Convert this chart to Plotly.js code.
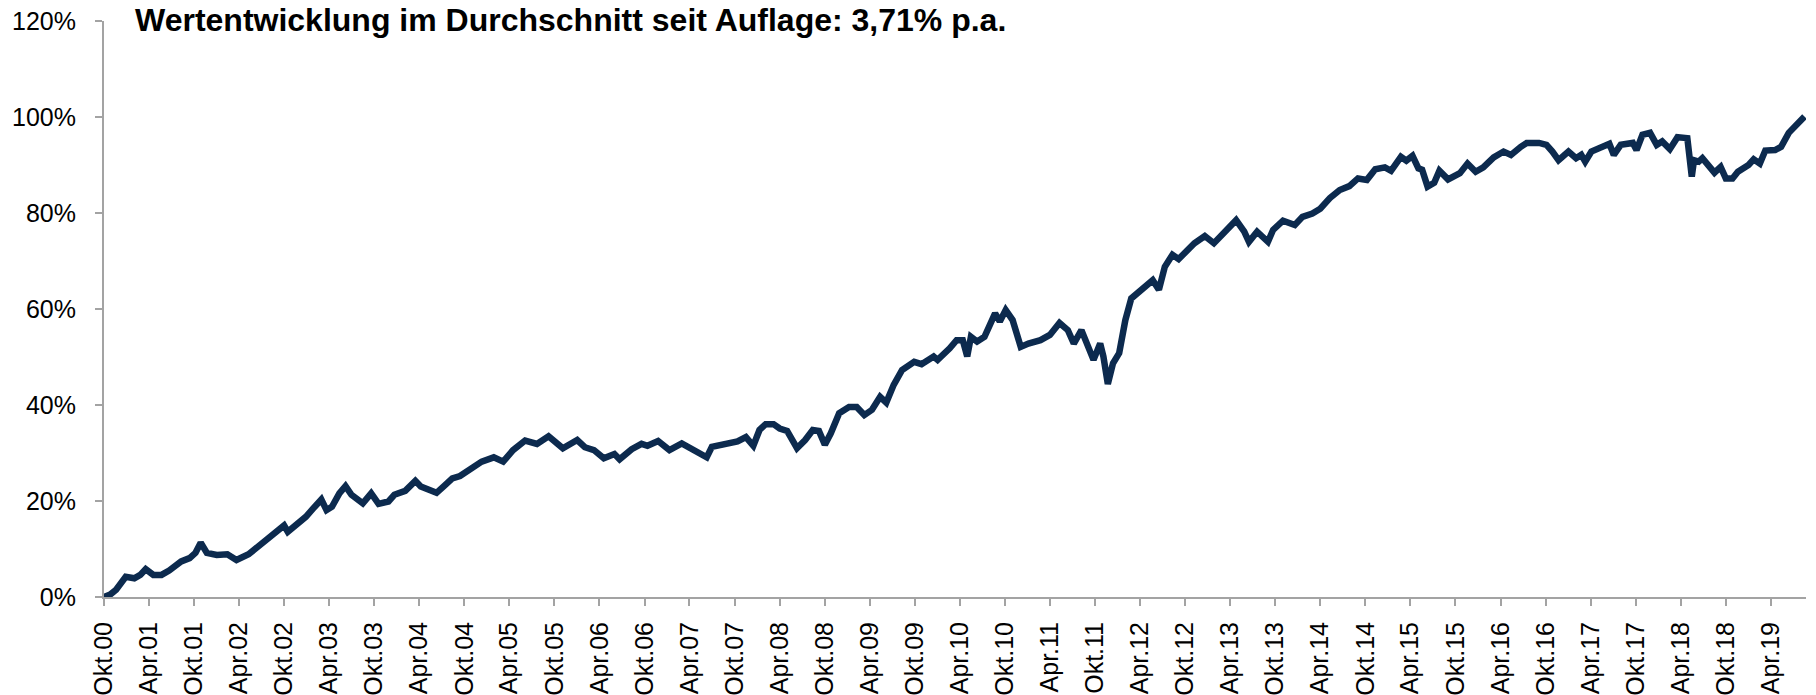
<!DOCTYPE html>
<html>
<head>
<meta charset="utf-8">
<script src="https://cdn.plot.ly/plotly-3.0.1.min.js"></script>
<style>
  html, body { margin: 0; padding: 0; background: #ffffff; }
  #chart { width: 1816px; height: 695px; }
</style>
</head>
<body>
<div id="chart"></div>
<script>
// ---- data ----
const chartTitle = "Wertentwicklung im Durchschnitt seit Auflage: 3,71% p.a.";

const dates = [
  "2000-10-01","2000-10-26","2000-11-19","2000-12-28","2001-02-01","2001-02-25","2001-03-19","2001-04-19",
  "2001-05-22","2001-06-22","2001-08-10","2001-09-13","2001-10-07","2001-10-28","2001-11-22","2002-01-01",
  "2002-02-13","2002-03-22","2002-05-10","2002-06-25","2002-08-13","2002-10-01","2002-10-16","2002-11-19",
  "2002-12-28","2003-01-28","2003-03-01","2003-03-22","2003-04-13","2003-05-13","2003-06-07","2003-07-01",
  "2003-08-16","2003-09-19","2003-10-19","2003-11-28","2003-12-22","2004-02-04","2004-02-22","2004-03-16",
  "2004-04-07","2004-05-07","2004-06-10","2004-07-10","2004-08-13","2004-09-13","2004-10-22","2004-12-10",
  "2005-01-28","2005-03-07","2005-04-16","2005-06-04","2005-07-22","2005-09-07","2005-11-04","2006-01-01",
  "2006-02-01","2006-03-10","2006-04-19","2006-06-01","2006-06-22","2006-08-10","2006-09-19","2006-10-13",
  "2006-11-25","2007-01-10","2007-03-01","2007-04-07","2007-06-10","2007-07-01","2007-08-19","2007-10-13",
  "2007-11-16","2007-12-16","2008-01-10","2008-02-04","2008-03-07","2008-04-01","2008-05-01","2008-06-10",
  "2008-07-13","2008-08-13","2008-09-07","2008-10-01","2008-10-25","2008-11-28","2009-01-07","2009-02-07",
  "2009-03-10","2009-04-10","2009-05-13","2009-06-07","2009-07-07","2009-08-10","2009-09-28","2009-10-28",
  "2009-12-16","2010-01-01","2010-02-19","2010-03-19","2010-04-13","2010-05-01","2010-05-16","2010-06-10",
  "2010-07-10","2010-08-22","2010-09-10","2010-10-04","2010-11-01","2010-12-04","2011-01-04","2011-02-22",
  "2011-04-01","2011-05-10","2011-06-13","2011-07-07","2011-08-07","2011-09-01","2011-09-25","2011-10-22",
  "2011-11-04","2011-11-22","2011-12-13","2012-01-07","2012-02-01","2012-02-25","2012-03-28","2012-04-28",
  "2012-05-22","2012-06-16","2012-07-10","2012-08-10","2012-09-04","2012-11-07","2012-12-19","2013-01-25",
  "2013-03-04","2013-04-25","2013-05-28","2013-06-16","2013-07-19","2013-09-01","2013-09-22","2013-11-01",
  "2013-12-19","2014-01-19","2014-02-28","2014-04-01","2014-05-10","2014-06-19","2014-07-28","2014-09-01",
  "2014-10-07","2014-11-10","2014-12-19","2015-01-13","2015-02-22","2015-03-16","2015-04-10","2015-05-04",
  "2015-05-19","2015-06-10","2015-07-07","2015-07-28","2015-09-01","2015-10-19","2015-11-19","2015-12-22",
  "2016-01-22","2016-03-04","2016-04-13","2016-05-13","2016-06-22","2016-07-16","2016-09-04","2016-10-04",
  "2016-10-28","2016-11-22","2017-01-01","2017-02-01","2017-02-22","2017-03-10","2017-04-04","2017-05-13",
  "2017-06-16","2017-07-04","2017-08-01","2017-09-19","2017-10-04","2017-10-28","2017-11-28","2017-12-25",
  "2018-01-16","2018-02-16","2018-03-19","2018-04-28","2018-05-16","2018-05-25","2018-06-13","2018-06-28",
  "2018-08-01","2018-08-16","2018-09-10","2018-10-01","2018-10-28","2018-11-19","2019-01-01","2019-01-22",
  "2019-02-16","2019-03-10","2019-04-19","2019-05-13","2019-06-13","2019-07-07","2019-07-22","2019-08-16"
];

const performance = [
  0.0, 0.5, 1.5, 4.2, 3.9, 4.6, 5.8, 4.6,
  4.6, 5.5, 7.4, 8.1, 9.2, 11.3, 9.2, 8.75,
  8.9, 7.7, 8.9, 10.8, 12.9, 14.9, 13.6, 15.0,
  16.7, 18.5, 20.3, 18.1, 18.8, 21.6, 23.1, 21.3,
  19.5, 21.6, 19.4, 19.9, 21.3, 22.1, 23.0, 24.2,
  23.0, 22.3, 21.7, 23.1, 24.7, 25.2, 26.5, 28.2,
  29.1, 28.2, 30.6, 32.6, 31.9, 33.5, 31.0, 32.7,
  31.2, 30.6, 28.9, 29.8, 28.7, 30.8, 31.9, 31.5,
  32.5, 30.6, 32.0, 31.0, 29.1, 31.3, 31.7, 32.4,
  33.3, 31.5, 34.8, 36.0, 36.0, 35.1, 34.6, 31.0,
  32.7, 34.8, 34.6, 31.7, 34.1, 38.3, 39.6, 39.6,
  37.9, 39.0, 41.7, 40.5, 44.2, 47.3, 49.0, 48.5,
  50.1, 49.4, 51.8, 53.5, 53.5, 50.1, 54.2, 53.2,
  54.2, 59.1, 57.4, 59.8, 57.7, 52.1, 52.8, 53.5,
  54.6, 57.1, 55.6, 52.8, 55.6, 52.1, 49.4, 52.8,
  50.1, 44.4, 48.7, 50.8, 57.7, 62.2, 63.6, 65.0,
  66.0, 64.0, 68.8, 71.3, 70.4, 73.7, 75.2, 73.7,
  75.8, 78.5, 76.1, 74.0, 76.1, 74.0, 76.5, 78.4,
  77.5, 79.2, 79.9, 80.9, 83.1, 84.8, 85.6, 87.2,
  86.9, 89.1, 89.5, 88.8, 91.7, 90.9, 91.9, 89.3,
  89.0, 85.5, 86.3, 88.8, 87.0, 88.3, 90.3, 88.6,
  89.5, 91.6, 92.8, 92.1, 93.8, 94.6, 94.6, 94.2,
  92.8, 91.0, 92.8, 91.4, 92.1, 90.7, 92.8, 93.5,
  94.4, 92.1, 94.2, 94.6, 93.1, 96.3, 96.7, 94.2,
  94.9, 93.3, 95.8, 95.6, 87.6, 91.0, 90.7, 91.4,
  89.3, 88.4, 89.6, 87.2, 87.2, 88.6, 90.0, 91.2,
  90.3, 93.0, 93.1, 93.8, 96.7, 98.0, 98.7, 100.1
];

const tickLabels = [
  "Okt.00","Apr.01","Okt.01","Apr.02","Okt.02","Apr.03","Okt.03","Apr.04","Okt.04","Apr.05",
  "Okt.05","Apr.06","Okt.06","Apr.07","Okt.07","Apr.08","Okt.08","Apr.09","Okt.09","Apr.10",
  "Okt.10","Apr.11","Okt.11","Apr.12","Okt.12","Apr.13","Okt.13","Apr.14","Okt.14","Apr.15",
  "Okt.15","Apr.16","Okt.16","Apr.17","Okt.17","Apr.18","Okt.18","Apr.19"
];

const yTickValues = [0, 20, 40, 60, 80, 100, 120];

// tick dates derived from the labels ("Okt.00" -> 2000-10-01)
const tickDates = tickLabels.map(function (t) {
  const mon = t.indexOf("Okt") === 0 ? "10" : "04";
  const yr = 2000 + parseInt(t.split(".")[1], 10);
  return yr + "-" + mon + "-01";
});

const axisGray = "#a3a3a3";
const fontFamily = "Liberation Sans, Arial, Helvetica, sans-serif";

const trace = {
  type: "scatter",
  mode: "lines",
  x: dates,
  y: performance,
  line: { color: "#0c2a4e", width: 6.5, shape: "linear" },
  hoverinfo: "x+y"
};

const layout = {
  width: 1816,
  height: 695,
  paper_bgcolor: "#ffffff",
  plot_bgcolor: "#ffffff",
  showlegend: false,
  margin: { l: 104, r: 10, t: 21, b: 98, pad: 0 },
  title: {
    text: chartTitle,
    font: { family: fontFamily, size: 32, color: "#000000", weight: "bold" },
    xref: "container",
    yref: "container",
    x: 135 / 1816,
    xanchor: "left",
    y: 1 - 20 / 695,
    yanchor: "middle"
  },
  xaxis: {
    type: "date",
    range: ["2000-10-01", "2019-08-22"],
    tickmode: "array",
    tickvals: tickDates,
    ticktext: tickLabels,
    tickangle: -90,
    ticks: "outside",
    ticklen: 7,
    tickwidth: 2,
    tickcolor: axisGray,
    showline: true,
    linecolor: axisGray,
    linewidth: 2,
    showgrid: false,
    zeroline: false,
    tickfont: { family: fontFamily, size: 25, color: "#000000" },
    ticklabelstandoff: 6,
    fixedrange: true
  },
  yaxis: {
    range: [0, 120],
    tickmode: "array",
    tickvals: yTickValues,
    ticktext: yTickValues.map(function (v) { return v + "%"; }),
    ticks: "outside",
    ticklen: 7,
    tickwidth: 2,
    tickcolor: axisGray,
    showline: true,
    linecolor: axisGray,
    linewidth: 2,
    showgrid: false,
    zeroline: false,
    tickfont: { family: fontFamily, size: 25, color: "#000000" },
    ticklabelstandoff: 14,
    fixedrange: true
  }
};

Plotly.newPlot("chart", [trace], layout, { displayModeBar: false, staticPlot: true });
</script>
</body>
</html>
